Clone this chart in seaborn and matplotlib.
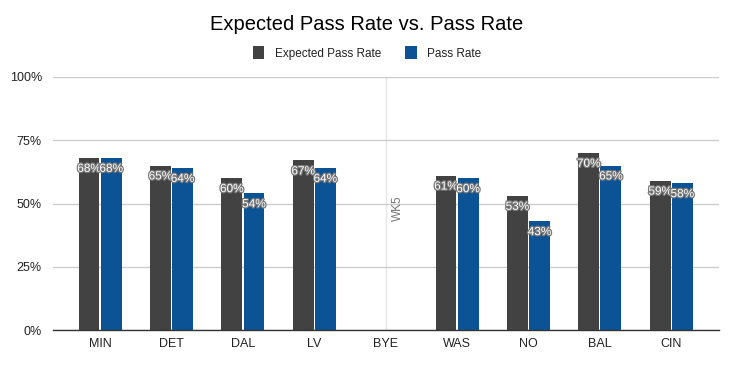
import matplotlib
matplotlib.use("Agg")
import matplotlib.pyplot as plt
import matplotlib.patheffects as pe
import numpy as np
import pandas as pd
import seaborn as sns

# values (percent)
opponents = ["MIN", "DET", "DAL", "LV", "BYE", "WAS", "NO", "BAL", "CIN"]
expected_pass_rate = [68, 65, 60, 67, np.nan, 61, 53, 70, 59]
pass_rate = [68, 64, 54, 64, np.nan, 60, 43, 65, 58]
series_names = ["Expected Pass Rate", "Pass Rate"]
colors = ["#424242", "#0b5394"]
bye_label = "WK5"


def main():
    df = pd.DataFrame({
        "opp": opponents * 2,
        "value": expected_pass_rate + pass_rate,
        "series": [series_names[0]] * len(opponents) + [series_names[1]] * len(opponents),
    })

    sns.set_theme(style="white")
    plt.rcParams["font.family"] = ["Liberation Sans", "DejaVu Sans"]

    fig = plt.figure(figsize=(7.34, 3.67), dpi=100)
    ax = fig.add_axes([0.0722, 0.1008, 0.9074, 0.6894])

    sns.barplot(data=df, x="opp", y="value", hue="series", order=opponents,
                hue_order=series_names, palette=colors, width=0.62, gap=0.06,
                saturation=1, ax=ax, legend=True, linewidth=0)

    ax.set_ylim(0, 100)
    ax.set_xlim(-0.66, 8.67)
    ax.set_yticks([0, 25, 50, 75, 100])
    ax.set_yticklabels(["0%", "25%", "50%", "75%", "100%"])
    ax.yaxis.grid(True, color="#cccccc", linewidth=1)
    ax.set_axisbelow(True)
    for s in ["top", "right", "left"]:
        ax.spines[s].set_visible(False)
    ax.spines["bottom"].set_color("#333333")
    ax.spines["bottom"].set_linewidth(1)
    ax.tick_params(axis="both", length=0, labelsize=9, colors="#222222")
    ax.tick_params(axis="y", pad=8)
    ax.tick_params(axis="x", pad=6)
    ax.set_xlabel("")
    ax.set_ylabel("")

    # bye week marker
    bye_idx = opponents.index("BYE")
    ax.axvline(bye_idx, color="#e6e6e6", linewidth=1, zorder=0)
    ax.text(bye_idx + 0.17, 48, bye_label, rotation=90, ha="center", va="center",
            fontsize=8.5, color="#757575")

    # data labels
    for cont, col in zip(ax.containers, colors):
        for bar in cont:
            h = bar.get_height()
            if np.isnan(h):
                continue
            ax.text(bar.get_x() + bar.get_width() / 2, h - 4.3, f"{h:.0f}%",
                    ha="center", va="center", fontsize=8.5, color="white",
                    path_effects=[pe.withStroke(linewidth=1.8, foreground="#777777")])

    handles, labels = ax.get_legend_handles_labels()
    ax.get_legend().remove()
    fig.legend(handles, labels, loc="center", bbox_to_anchor=(0.5, 1 - 53 / 367), ncol=2,
               frameon=False, fontsize=8.5, handlelength=1.0, handleheight=1.3,
               handletextpad=0.9, columnspacing=2.0, labelcolor="#222222")

    fig.text(0.5, 1 - 24 / 367, "Expected Pass Rate vs. Pass Rate", ha="center",
             va="center", fontsize=14.5, color="#000000")

    fig.savefig("out.png", dpi=100)


if __name__ == "__main__":
    main()
